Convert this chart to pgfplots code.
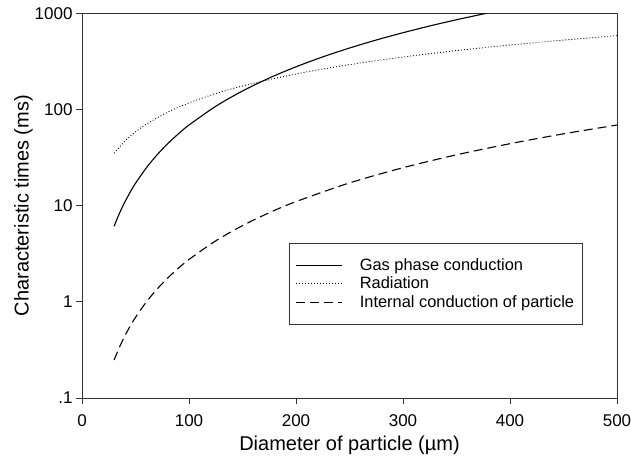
\documentclass[border=0pt]{standalone}
\usepackage{fontspec}
\setmainfont{Liberation Sans}
\usepackage{pgfplots}
\pgfplotsset{compat=1.18}
\begin{document}
\begin{tikzpicture}
\begin{axis}[
  scale only axis, width=535pt, height=384.7pt,
  xmin=0, xmax=500, ymin=0.1, ymax=1000, ymode=log,
  xtick={0,100,200,300,400,500},
  ytick={0.1,1,10,100,1000}, yticklabels={.1,1,10,100,1000},
  minor tick num=0, yminorticks=false, xminorticks=false,
  tick align=outside, xtick pos=left, ytick pos=left,
  major tick length=6pt,
  axis line style={draw=black!80, line width=0.8pt},
  every tick/.style={draw=black!80, line width=0.8pt},
  /pgf/number format/assume math mode=true,
  ticklabel style={font=\fontsize{17}{20}\selectfont},
  xticklabel style={yshift=-7pt},
  label style={font=\fontsize{20}{24}\selectfont},
  xlabel={Diameter of particle (µm)},
  ylabel={Characteristic times (ms)},
  xlabel style={at={(axis description cs:0.5,-0.1365)}, anchor=base},
  ylabel style={at={(axis description cs:-0.1095,0.5)}, anchor=center},
  legend style={at={(axis description cs:0.9364,0.4029)}, anchor=north east,
    draw=black!80, line width=0.8pt, font=\fontsize{16.4}{18.3}\selectfont,
    inner xsep=6.5pt, inner ysep=13pt, row sep=1.2pt, cells={anchor=west},
    /tikz/every odd column/.append style={column sep=15pt}},
  legend image code/.code={\draw[#1] (0pt,0pt) -- (46pt,0pt);},
]
\addplot[black, line width=1.1pt, smooth] coordinates {
 (30,6.10) (35,8.32) (40,10.89) (45,13.80) (50,17.06) (60,24.62) (70,33.58)
 (80,43.94) (90,55.70) (100,68.86) (125,107.9) (150,155.7) (175,212.4)
 (200,277.7) (225,352.2) (250,435.3) (275,527.6) (300,628.2) (325,738.3)
 (350,857.0) (378,1000)
};
\addlegendentry{Gas phase conduction}
\addplot[black, line width=0.9pt, dash pattern=on 0.9pt off 2.1pt, smooth] coordinates {
 (30,35.1) (40,46.8) (50,58.5) (60,70.2) (80,93.6) (100,117) (125,146.3)
 (150,175.5) (200,234) (250,292.5) (300,351) (350,409.5) (400,468)
 (450,526.5) (500,585)
};
\addlegendentry{Radiation}
\addplot[black, line width=1.1pt, dash pattern=on 9pt off 5pt, smooth] coordinates {
 (30,0.248) (35,0.3376) (40,0.4409) (45,0.558) (50,0.6889) (60,0.992)
 (70,1.350) (80,1.764) (90,2.232) (100,2.756) (125,4.306) (150,6.2)
 (175,8.439) (200,11.02) (250,17.22) (300,24.8) (350,33.76) (400,44.09)
 (450,55.8) (500,68.89)
};
\addlegendentry{Internal conduction of particle}
\coordinate (sw) at (rel axis cs:0,0);
\coordinate (ne) at (rel axis cs:1,1);
\end{axis}
\pgfresetboundingbox
\path ([shift={(-82pt,-63pt)}]sw) rectangle ([shift={(14pt,13.3pt)}]ne);
\end{tikzpicture}
\end{document}
